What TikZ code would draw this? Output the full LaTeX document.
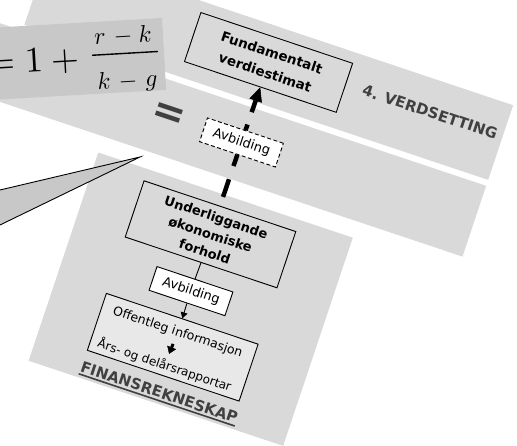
\documentclass[tikz,border=0pt]{standalone}
\usepackage[no-math]{fontspec}
\setmainfont{DejaVu Sans}
\usetikzlibrary{arrows.meta}

\definecolor{bandgray}{HTML}{D9D9D9}
\definecolor{formulagray}{HTML}{C8C8C8}
\definecolor{infogray}{HTML}{E8E8E8}
\definecolor{headgray}{HTML}{404040}

% heavy underline for the panel title
\newsavebox\ulinebox
\newcommand\heavyunderline[1]{\sbox\ulinebox{#1}\rlap{\rule[-3.5pt]{\wd\ulinebox}{1.6pt}}\usebox\ulinebox}

\begin{document}
\begin{tikzpicture}[x=1pt, y=-1pt,
  bandfill/.style={fill=bandgray},
  framebox/.style={draw=black, line width=0.9pt, inner sep=0pt, align=center, minimum width=160pt},
  boldtext/.style={font=\fontsize{13}{18}\selectfont\bfseries},
  plaintext/.style={inner sep=0pt},
  mapbox/.style={draw=black, line width=0.9pt, fill=white, inner sep=0pt,
    minimum width=80pt, minimum height=25pt, font=\fontsize{13}{16}\selectfont},
  heading/.style={font=\fontsize{15}{18}\selectfont\bfseries, text=headgray, inner sep=0pt},
  formula/.style={font=\fontsize{10}{12}\selectfont, inner sep=0pt, scale=3.6},
  fracpart/.style={font=\fontsize{10}{12}\selectfont, inner sep=0pt, scale=2.4},
  thickdash/.style={line width=4.5pt, draw=black},
  thinlink/.style={line width=0.9pt, draw=black},
]
\useasboundingbox (0,0) rectangle (517,446);
\clip (0,0) rectangle (517,446);
\fill[white] (0,0) rectangle (517,446);

% tilted background panels
\begin{scope}[rotate=-18.5]
  \fill[bandfill] (31,-63) rectangle (520,15.7);
  \fill[bandfill] (-60,22) rectangle (520,96.6);
  \fill[bandfill] (141.6,113.5) rectangle (410,333);
\end{scope}

% formula card
\begin{scope}[shift={(162,18)}, rotate=3.3, transform shape]
  \fill[formulagray] (-230,0) rectangle (0,72);
  \node[formula, anchor=base west] (lead) at (-178,46.6) {$=1+{}$};
  \node[fracpart, anchor=base] (num) at (-40,22.8) {$r\mkern6mu{-}\mkern4.5mu k$};
  \node[fracpart, anchor=base] (den) at (-38,67.8) {$k\mkern6mu{-}\mkern6mu g$};
  \draw[line width=1.4pt] (-72,33.2) -- (-6,33.2);
\end{scope}

% callout pointer
\filldraw[fill=formulagray, draw=black, line width=0.9pt, line join=miter]
  (-20,194.7) -- (140,157) -- (-20,234.7) -- cycle;

% diagram on the tilted panels
\begin{scope}[rotate=-18.5, transform shape]
  \node[framebox, font=\fontsize{13.5}{21}\selectfont\bfseries, minimum height=51.7pt]
    (fund) at (274.5,-26) {Fundamentalt\\verdiestimat};
  \node[heading] (verdsetting) at (443.3,-30.2) {4. VERDSETTING};
  \node[font=\fontsize{40}{40}\selectfont\bfseries, text=headgray, inner sep=0pt]
    (equals) at (196.7,55.7) {=};
  \node[mapbox, dash pattern=on 4pt off 2.5pt] (mapdash) at (274.2,58.5) {Avbilding};
  \node[framebox, boldtext, minimum height=59.3pt]
    (under) at (274,155.4) {Underliggande\\økonomiske\\forhold};
  \node[mapbox] (map) at (273.5,215.5) {Avbilding};
  \node[framebox, fill=infogray, minimum height=60pt] (infobox) at (274,274.5) {};
  \node[plaintext, font=\fontsize{12.5}{15}\selectfont] (info) at (274,259) {Offentleg informasjon};
  \node[plaintext, font=\fontsize{12}{15}\selectfont] (reports) at (272,294) {Års- og delårsrapportar};
  \node[heading] (finans) at (275.5,323) {\heavyunderline{FINANSREKNESKAP}};

  \draw[thickdash, dash pattern=on 18.7pt off 13.9pt, dash phase=23.3pt]
    (under.north) -- (mapdash.south);
  \draw[thickdash, dash pattern=on 6pt off 13pt on 60pt off 0pt,
    -{Triangle[width=13pt,length=14pt,line width=0.5pt]}]
    (mapdash.north) -- (fund.south);
  \draw[thinlink] (under.south) -- (map.north);
  \draw[thinlink, -{Triangle[width=7pt,length=6pt]}] (map.south) -- (infobox.north);
  \draw[line width=3pt, -{Triangle[width=9.5pt,length=7pt,line width=0.5pt]},
    shorten <=6pt, shorten >=5pt] (info) -- (reports);
\end{scope}
\end{tikzpicture}
\end{document}
